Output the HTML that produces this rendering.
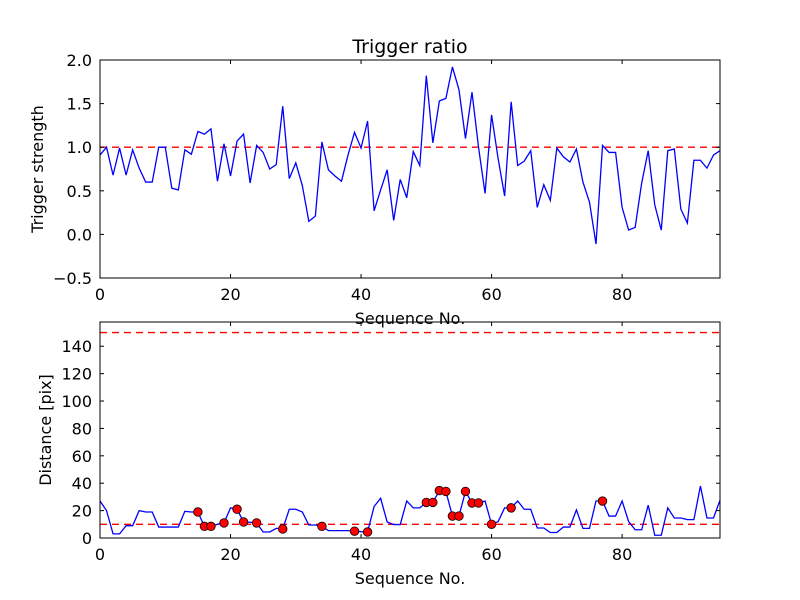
<!DOCTYPE html>
<html><head><meta charset="utf-8"><style>
body{margin:0;background:#fff}
svg{display:block;font-family:"DejaVu Sans","Liberation Sans",sans-serif}
</style></head><body>
<svg id="chart" width="800" height="600"></svg>
<script>
const ratioValues=[0.91,1.0,0.68,0.99,0.68,0.97,0.76,0.6,0.6,1.0,1.0,0.53,0.51,0.97,0.92,1.18,1.15,1.21,0.61,1.04,0.67,1.07,1.15,0.59,1.02,0.94,0.75,0.8,1.47,0.64,0.82,0.56,0.15,0.21,1.06,0.74,0.67,0.61,0.91,1.17,0.99,1.3,0.27,0.51,0.74,0.16,0.63,0.42,0.95,0.79,1.82,1.05,1.53,1.56,1.92,1.66,1.1,1.63,1.0,0.47,1.37,0.87,0.44,1.52,0.79,0.84,0.96,0.31,0.57,0.39,0.99,0.89,0.83,0.98,0.6,0.37,-0.11,1.02,0.94,0.94,0.31,0.05,0.08,0.59,0.96,0.34,0.05,0.96,0.98,0.29,0.13,0.85,0.85,0.76,0.91,0.96];
const distValues=[27,20,3,3,9,9,20,19,19,8,8,8,8,19.5,19,19,8.5,8.5,10,11,22,21,11.7,11.5,11,4.4,4.4,7,6.6,21,21,19,9.5,9.5,8.5,5.4,5.4,5.4,5.4,5,4.6,4.4,23,29,11.7,9.8,9.8,27,22,22,26,26,34.6,34,16,16,34,25.6,25.6,27,10,12,22,22,27,21,21,7.3,7.3,4,4,8,8,20.5,7,7,27,27,16,16,27,12,6,6,24,2,2,22,14.6,14.6,13.4,13.4,38,14.6,14.6,27.5];
const markerIdx=[15,16,17,19,21,22,24,28,34,39,41,50,51,52,53,54,55,56,57,58,60,63,77];
const topYTicks=[-0.5,0.0,0.5,1.0,1.5,2.0];
const botYTicks=[0,20,40,60,80,100,120,140];
const xTicks=[0,20,40,60,80];
const ratioThreshold=1.0;
const distThresholds=[10,150];

const svg=document.getElementById('chart');
const NS='http://www.w3.org/2000/svg';
function mk(tag,attrs,parent){const e=document.createElementNS(NS,tag);for(const k in attrs)e.setAttribute(k,attrs[k]);(parent||svg).appendChild(e);return e;}
const X0=100,X1=720,XMAX=95;
const sx=v=>X0+(X1-X0)*v/XMAX;
function panel(name,yTop,yBot,ymin,ymax,ticks,fmt,vals,thresholds,ylabel,ylabX,markers){
  const sy=v=>yBot-(yBot-yTop)*(v-ymin)/(ymax-ymin);
  const g=mk('g',{});  
  thresholds.forEach(t=>{const l=mk('line',{x1:X0,x2:X1,y1:sy(t),y2:sy(t),stroke:'#f00','stroke-width':1.3,'stroke-dasharray':'7,5'},g);
    
    });
  const p=mk('polyline',{points:vals.map((v,i)=>sx(i)+','+sy(v)).join(' '),fill:'none',stroke:'#00f','stroke-width':1.3},g);
  
  
  if(markers){markers.forEach(i=>{const c=mk('circle',{cx:sx(i),cy:sy(vals[i]),r:4.3,fill:'#f00',stroke:'#000','stroke-width':0.8},g);
    
    });}
  const r=mk('rect',{x:X0,y:yTop,width:X1-X0,height:yBot-yTop,fill:'none',stroke:'#000','stroke-width':1},g);
  
  
  ticks.forEach(t=>{const y=sy(t);
    mk('line',{x1:X0,x2:X0+4,y1:y,y2:y,stroke:'#000'},g);mk('line',{x1:X1,x2:X1-4,y1:y,y2:y,stroke:'#000'},g);
    const tx=mk('text',{x:X0-8,y:y+6,'text-anchor':'end','font-size':16},g);tx.textContent=fmt(t);
    
    });
  xTicks.forEach(t=>{const x=sx(t);
    mk('line',{x1:x,x2:x,y1:yBot,y2:yBot-4,stroke:'#000'},g);mk('line',{x1:x,x2:x,y1:yTop,y2:yTop+4,stroke:'#000'},g);
    const tx=mk('text',{x:x,y:yBot+22,'text-anchor':'middle','font-size':16},g);tx.textContent=t;
    
    });
  const xl=mk('text',{x:410,y:yBot+46,'text-anchor':'middle','font-size':16},g);xl.textContent='Sequence No.';
  
  
  const cy=(yTop+yBot)/2;
  const yl=mk('text',{x:ylabX,y:cy,'text-anchor':'middle','font-size':16,transform:'rotate(-90 '+ylabX+' '+cy+')'},g);yl.textContent=ylabel;
  
  
}
panel('ratio',60,278,-0.5,2.0,topYTicks,t=>t.toFixed(1).replace('-','\u2212'),ratioValues,[ratioThreshold],'Trigger strength',43,null);
panel('distance',322,538,0,157.7,botYTicks,t=>String(t),distValues,distThresholds,'Distance [pix]',51,markerIdx);
const title=mk('text',{x:410,y:53,'text-anchor':'middle','font-size':19});title.textContent='Trigger ratio';


</script>
</body></html>
